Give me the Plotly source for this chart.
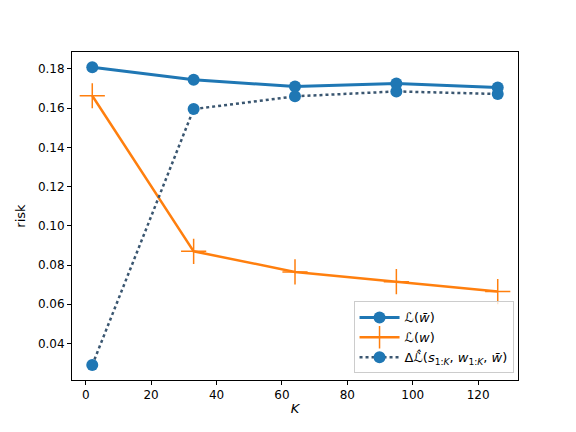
import plotly.graph_objects as go

# data
K = [2, 33, 64, 95, 126]
risk_avg = [0.1808, 0.1745, 0.1710, 0.1725, 0.1705]
risk_w = [0.1663, 0.0870, 0.0765, 0.0715, 0.0665]
delta_risk = [0.0290, 0.1595, 0.1660, 0.1685, 0.1672]

names = [
    "<i>ℒ</i>(<i>w̄</i>)",
    "<i>ℒ</i>(<i>w</i>)",
    "Δ<i>ℒ̂</i>(<i>s</i><sub>1:<i>K</i></sub>, <i>w</i><sub>1:<i>K</i></sub>, <i>w̄</i>)",
]

blue = '#1f77b4'
orange = '#ff7f0e'

fig = go.Figure()

fig.add_trace(
    go.Scatter(
        x=K, y=risk_avg, name=names[0],
        mode='lines+markers',
        line=dict(color=blue, width=3),
        marker=dict(symbol='circle', size=12, color=blue),
    )
)

fig.add_trace(
    go.Scatter(
        x=K, y=risk_w, name=names[1],
        mode='lines+markers',
        line=dict(color=orange, width=2.5),
        marker=dict(symbol='cross-thin', size=18,
                    line=dict(color=orange, width=1.5)),
    )
)

fig.add_trace(
    go.Scatter(
        x=K, y=delta_risk, name=names[2],
        mode='lines+markers',
        line=dict(color='#3a5670', width=2.5, dash='dot'),
        marker=dict(symbol='circle', size=12, color=blue),
    )
)

axis_style = dict(
    showline=True, mirror=True, linecolor='black', linewidth=1,
    ticks='outside', ticklen=4, tickcolor='black',
    showgrid=False, zeroline=False,
    tickfont=dict(size=12, color='black'),
)

fig.update_xaxes(
    range=[-4.2, 132.2], tickvals=[0, 20, 40, 60, 80, 100, 120],
    title=dict(text='<i>K</i>', font=dict(size=13, color='black'), standoff=2),
    **axis_style,
)
fig.update_yaxes(
    range=[0.0214, 0.1886],
    tickvals=[0.04, 0.06, 0.08, 0.10, 0.12, 0.14, 0.16, 0.18],
    tickformat='.2f',
    title=dict(text='risk', font=dict(size=13, color='black'), standoff=9),
    **axis_style,
)

# the page body adds an 8px offset, so the figure is drawn 8px smaller
fig.update_layout(
    width=568, height=424,
    margin={"l": 64, "r": 58, "t": 44, "b": 52},
    plot_bgcolor='white', paper_bgcolor='white',
    font=dict(family='DejaVu Sans', color='black'),
    legend=dict(
        x=0.99, y=0.02, xanchor='right', yanchor='bottom',
        bgcolor='rgba(255,255,255,0.8)', bordercolor='#cccccc', borderwidth=1,
        font=dict(size=13), tracegroupgap=6, itemwidth=40,
    ),
)

fig.write_html("out.html")
